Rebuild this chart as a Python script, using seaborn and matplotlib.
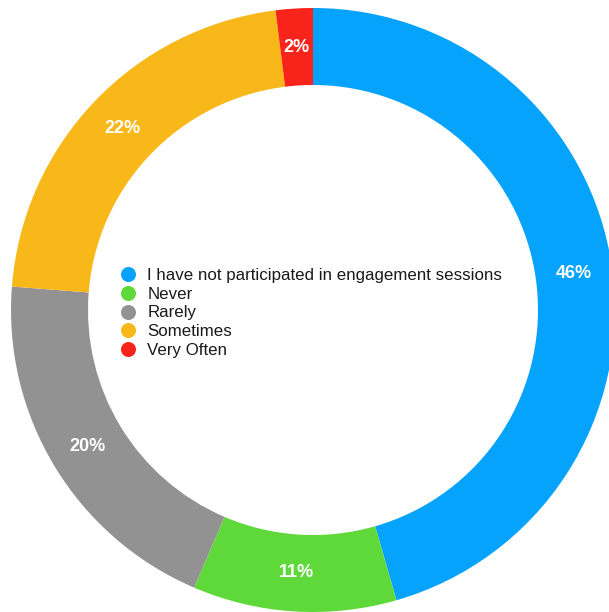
import matplotlib
matplotlib.use("Agg")
import matplotlib.pyplot as plt
from matplotlib.lines import Line2D
import seaborn as sns

# Survey responses: how often people took part in engagement sessions
categories = [
    "I have not participated in engagement sessions",
    "Never",
    "Rarely",
    "Sometimes",
    "Very Often",
]
percentages = [46, 11, 20, 22, 2]
colors = ["#05A3FC", "#5FD93A", "#929292", "#F9B81A", "#F8231A"]

sns.set_theme(style="white")
plt.rcParams["font.family"] = ["Liberation Sans", "DejaVu Sans"]

W, H = 609, 612
fig = plt.figure(figsize=(W / 100, H / 100), dpi=100)
ax = fig.add_axes([0, 0, 1, 1])

outer_r = 302
ring_w = 77
palette = sns.color_palette(colors)

wedges, _, autotexts = ax.pie(
    percentages,
    colors=palette,
    startangle=90,
    counterclock=False,
    radius=outer_r,
    autopct="%.0f%%",
    pctdistance=(outer_r - ring_w / 2) / outer_r,
    wedgeprops=dict(width=ring_w, linewidth=0),
    textprops=dict(color="white", fontweight="bold", fontsize=13),
)
for t, v in zip(autotexts, percentages):
    t.set_text(f"{v}%")

# axes in pixel units with the ring centre at (313, 310) from the top-left
cx, cy = 313, 310
ax.set_xlim(-cx, W - cx)
ax.set_ylim(-(H - cy), cy)
ax.set_aspect("equal")
ax.axis("off")

fs = 12.2
handles = [
    Line2D([0], [0], marker="o", linestyle="none", markersize=10.8,
           markerfacecolor=c, markeredgewidth=0)
    for c in palette
]
fs_px = fs * 100 / 72
legend_left = 128 - fs_px * 0.5
ax.legend(
    handles, categories,
    loc="center left",
    bbox_to_anchor=(legend_left / W, (H - 313) / H),
    bbox_transform=fig.transFigure,
    frameon=False,
    fontsize=fs,
    handlelength=1.0,
    handletextpad=0.65,
    labelspacing=0.21,
    borderpad=0,
    borderaxespad=0,
    labelcolor="#1a1a1a",
)

fig.savefig("out.png", dpi=100, facecolor="white")
